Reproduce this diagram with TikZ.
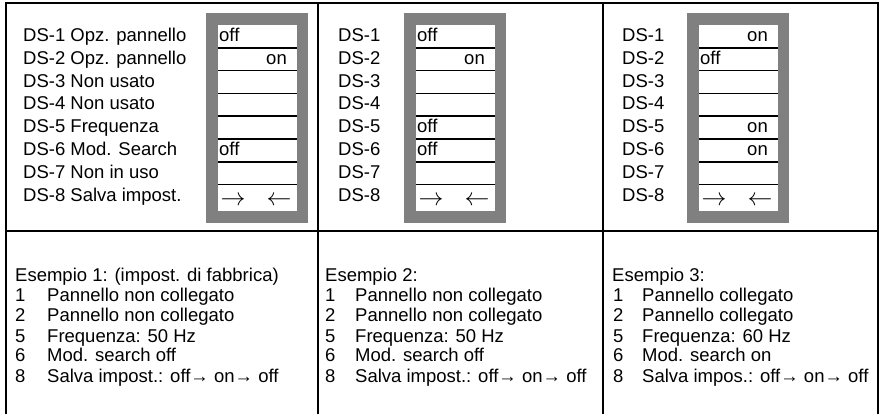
\documentclass[tikz,border=0pt]{standalone}
\usepackage{fontspec}
\setmainfont{Liberation Sans}
\definecolor{swgray}{RGB}{128,128,128}

\tikzstyle{frame} = [line width=2pt]
\tikzstyle{switch} = [fill=swgray]
\tikzstyle{slot} = [fill=white]
\tikzstyle{rowline} = [line width=1.6pt]
\tikzstyle{lab} = [anchor=base west, inner sep=0pt]
\tikzstyle{offval} = [anchor=base west, inner sep=0pt]
\tikzstyle{onval} = [anchor=base east, inner sep=0pt]
\tikzstyle{pijl} = [inner sep=0pt, font=\fontsize{24}{24}\selectfont]

\begin{document}
\begin{tikzpicture}[x=1pt, y=-1pt, font=\fontsize{18.5}{20}\selectfont]
\useasboundingbox (0,0) rectangle (879,414);
%frame
\draw[frame] (6,414) -- (6,3) -- (878,3) -- (878,414);
\draw[frame] (318,3) -- (318,414);
\draw[frame] (603,3) -- (603,414);
\draw[frame] (6,231) -- (878,231);
%switch blocks
\foreach \gx in {206,404,687} {
    \fill[switch] (\gx,13) rectangle ++(102,210);
    \fill[slot] (\gx+12,25) rectangle ++(79,186);
    \foreach \r in {1,...,7}
        \draw[rowline] (\gx+12,{25+22.8*\r}) -- ++(79,0);
}
%begin column1
\foreach \t [count=\i] in {DS-1 Opz. pannello, DS-2 Opz. pannello, DS-3 Non usato,
    DS-4 Non usato, DS-5 Frequenza, DS-6 Mod. Search, DS-7 Non in uso, DS-8 Salva impost.}
    \node[lab] (dsa\i) at (23,{41.5+22.8*(\i-1)}) {\t};
\node[offval] (va1) at (219,41.5) {off};
\node[onval] (va2) at (287,64.3) {on};
\node[offval] (va6) at (219,155.5) {off};
\node[pijl] (va8r) at (233,201) {$\rightarrow$};
\node[pijl] (va8l) at (279,201) {$\leftarrow$};
%end column1
%begin column2
\foreach \i in {1,...,8}
    \node[lab] (dsb\i) at (338,{41.5+22.8*(\i-1)}) {DS-\i};
\node[offval] (vb1) at (417,41.5) {off};
\node[onval] (vb2) at (485,64.3) {on};
\node[offval] (vb5) at (417,132.7) {off};
\node[offval] (vb6) at (417,155.5) {off};
\node[pijl] (vb8r) at (431,201) {$\rightarrow$};
\node[pijl] (vb8l) at (477,201) {$\leftarrow$};
%end column2
%begin column3
\foreach \i in {1,...,8}
    \node[lab] (dsc\i) at (622,{41.5+22.8*(\i-1)}) {DS-\i};
\node[onval] (vc1) at (768,41.5) {on};
\node[offval] (vc2) at (700,64.3) {off};
\node[onval] (vc5) at (768,132.7) {on};
\node[onval] (vc6) at (768,155.5) {on};
\node[pijl] (vc8r) at (714,201) {$\rightarrow$};
\node[pijl] (vc8l) at (760,201) {$\leftarrow$};
%end column3
%begin examples
\node[lab] (exa) at (15,282) {Esempio 1: (impost. di fabbrica)};
\foreach \n/\t [count=\i] in {1/Pannello non collegato, 2/Pannello non collegato,
    5/Frequenza: 50 Hz, 6/Mod. search off, 8/Salva impost.: off→ on→ off} {
    \node[lab] (exan\i) at (15,{282+20*\i}) {\n};
    \node[lab] (exat\i) at (47,{282+20*\i}) {\t};
}
\node[lab] (exb) at (325,282) {Esempio 2:};
\foreach \n/\t [count=\i] in {1/Pannello non collegato, 2/Pannello non collegato,
    5/Frequenza: 50 Hz, 6/Mod. search off, 8/Salva impost.: off→ on→ off} {
    \node[lab] (exbn\i) at (325,{282+20*\i}) {\n};
    \node[lab] (exbt\i) at (355,{282+20*\i}) {\t};
}
\node[lab] (exc) at (612,282) {Esempio 3:};
\foreach \n/\t [count=\i] in {1/Pannello collegato, 2/Pannello collegato,
    5/Frequenza: 60 Hz, 6/Mod. search on, 8/Salva impos.: off→ on→ off} {
    \node[lab] (excn\i) at (613,{282+20*\i}) {\n};
    \node[lab] (exct\i) at (642,{282+20*\i}) {\t};
}
%end examples
\end{tikzpicture}
\end{document}
